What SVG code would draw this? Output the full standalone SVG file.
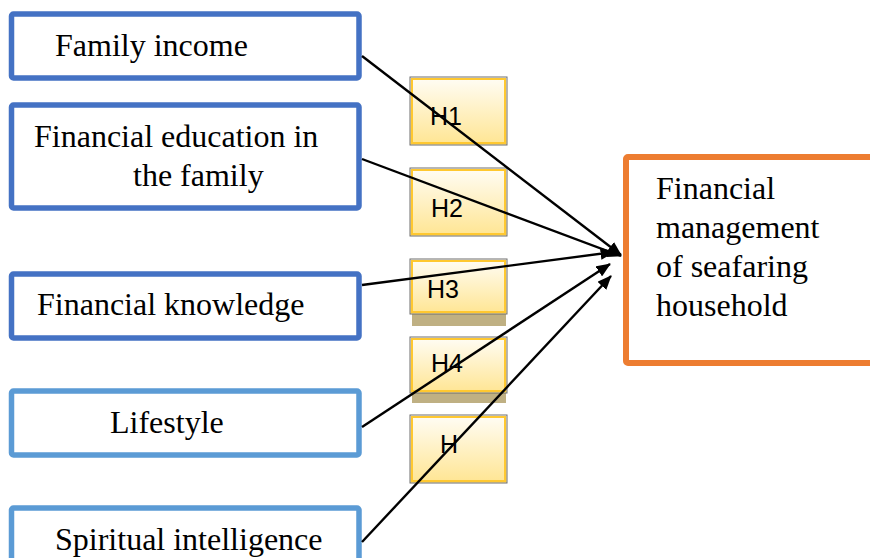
<svg xmlns="http://www.w3.org/2000/svg" width="870" height="558" viewBox="0 0 870 558">
<defs>
<linearGradient id="hg" x1="0" y1="0" x2="0" y2="1">
<stop offset="0" stop-color="#FFFDF6"/>
<stop offset="1" stop-color="#FFE592"/>
</linearGradient>
<marker id="ah" markerWidth="6" markerHeight="5" refX="5.6" refY="2.5" orient="auto" markerUnits="strokeWidth">
<path d="M0,0 L6,2.5 L0,5 Z" fill="#000"/>
</marker>
<style>
.tx{font-family:"Liberation Serif","Times New Roman",serif;font-size:32px;fill:#000}
.hx{font-family:"Liberation Sans",Arial,sans-serif;font-size:25px;fill:#000}
.dk{fill:#fff;stroke:#4472C4;stroke-width:5.5}
.lt{fill:#fff;stroke:#5B9BD5;stroke-width:5.5}
.hb{fill:url(#hg);stroke:#6F6F6F;stroke-width:1}
.hi{fill:none;stroke:#FFC830;stroke-width:2}
.sh{fill:#BFB083}
.cn{stroke:#000;stroke-width:2.4;fill:none;marker-end:url(#ah)}
</style>
</defs>
<rect width="870" height="558" fill="#fff"/>
<g id="n1"><rect class="dk" x="11.5" y="14" width="347.5" height="64" rx="2"/><text class="tx" x="55" y="56">Family income</text></g>
<g id="n2"><rect class="dk" x="11.5" y="105" width="347.5" height="103" rx="2"/><text class="tx" x="34" y="147">Financial education in</text><text class="tx" x="133" y="186">the family</text></g>
<g id="n3"><rect class="dk" x="11.5" y="274" width="347.5" height="64" rx="2"/><text class="tx" x="37" y="315">Financial knowledge</text></g>
<g id="n4"><rect class="lt" x="11.5" y="391" width="347.5" height="64" rx="2"/><text class="tx" x="110" y="433">Lifestyle</text></g>
<g id="n5"><rect class="lt" x="11.5" y="508" width="347.5" height="64" rx="2"/><text class="tx" x="55" y="550">Spiritual intelligence</text></g>
<g id="out"><rect x="626" y="157" width="260" height="206" rx="2" fill="#fff" stroke="#ED7D31" stroke-width="6"/>
<text class="tx" x="656" y="199">Financial</text><text class="tx" x="656" y="238">management</text><text class="tx" x="656" y="277">of seafaring</text><text class="tx" x="656" y="316">household</text></g>
<g id="h1"><rect class="hb" x="410" y="77" width="97" height="68"/><rect class="hi" x="412" y="79" width="93" height="64"/><text class="hx" x="430" y="125">H1</text></g>
<g id="h2"><rect class="hb" x="410" y="168" width="97" height="68"/><rect class="hi" x="412" y="170" width="93" height="64"/><text class="hx" x="431" y="217">H2</text></g>
<g id="h3"><rect class="sh" x="412" y="314" width="94" height="12"/><rect class="hb" x="410" y="259" width="97" height="55"/><rect class="hi" x="412" y="261" width="93" height="51"/><text class="hx" x="427" y="298">H3</text></g>
<g id="h4"><rect class="sh" x="412" y="393" width="94" height="10"/><rect class="hb" x="410" y="337" width="97" height="56"/><rect class="hi" x="412" y="339" width="93" height="52"/><text class="hx" x="431" y="372">H4</text></g>
<g id="h5"><rect class="hb" x="410" y="415" width="97" height="68"/><rect class="hi" x="412" y="417" width="93" height="64"/><text class="hx" x="440" y="453">H</text></g>
<g id="connectors">
<line class="cn" x1="362" y1="56" x2="621" y2="255"/>
<line class="cn" x1="362" y1="159" x2="621" y2="256"/>
<line class="cn" x1="362" y1="285" x2="614" y2="252"/>
<line class="cn" x1="362" y1="427" x2="610" y2="264"/>
<line class="cn" x1="362" y1="542" x2="611" y2="276"/>
</g>
</svg>
